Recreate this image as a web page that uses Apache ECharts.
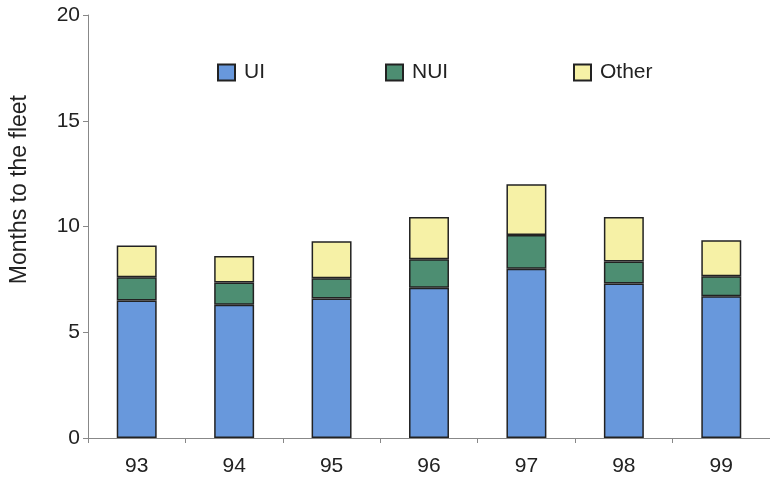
<!DOCTYPE html>
<html>
<head>
<meta charset="utf-8">
<script src="https://cdn.jsdelivr.net/npm/echarts@6/dist/echarts.min.js"></script>
<style>
  html, body { margin: 0; padding: 0; background: #fff; }
  #main { width: 770px; height: 481px; }
</style>
</head>
<body>
<div id="main"></div>
<script>
// years on the x axis
const years = ['93', '94', '95', '96', '97', '98', '99'];
// stacked months per component
const ui = [6.5, 6.3, 6.6, 7.1, 8.0, 7.3, 6.7];
const nui = [1.1, 1.05, 0.95, 1.35, 1.6, 1.05, 0.95];
const other = [1.5, 1.25, 1.75, 2.0, 2.4, 2.1, 1.7];
const names = ['UI', 'NUI', 'Other'];

const colors = ['#6898dc', '#4d8e72', '#f6f1a6'];
const font = 'Liberation Sans, Arial, sans-serif';

const barStyle = (c) => ({
  color: c,
  borderColor: '#222',
  borderWidth: 1.5
});

// one legend per item so each sits where it does in the original
const legendLeft = [212, 380, 568];
const legends = names.map((n, i) => ({
  left: legendLeft[i],
  top: 57,
  itemWidth: 17,
  itemHeight: 16,
  icon: 'rect',
  textStyle: {
    fontFamily: font,
    fontSize: 21,
    color: '#222',
    padding: [0, 0, 0, 4]
  },
  data: [n]
}));

echarts.init(document.getElementById('main')).setOption({
  animation: false,
  color: colors,
  grid: {
    left: 88,
    right: 0,
    top: 15,
    bottom: 43
  },
  legend: legends,
  graphic: [
    {
      type: 'text',
      left: 8,
      top: 95,
      rotation: Math.PI / 2,
      style: {
        text: 'Months to the fleet',
        font: '23px ' + font,
        fill: '#222'
      }
    }
  ],
  xAxis: {
    type: 'category',
    data: years,
    axisLine: { lineStyle: { color: '#888', width: 1 } },
    axisTick: { show: true, length: 5, lineStyle: { color: '#888' } },
    axisLabel: {
      margin: 18,
      fontFamily: font,
      fontSize: 21,
      color: '#222'
    }
  },
  yAxis: {
    type: 'value',
    min: 0,
    max: 20,
    interval: 5,
    axisLine: { show: true, lineStyle: { color: '#888', width: 1 } },
    axisTick: { show: true, length: 5, lineStyle: { color: '#888' } },
    splitLine: { show: false },
    axisLabel: {
      margin: 8,
      fontFamily: font,
      fontSize: 21,
      color: '#222'
    }
  },
  series: [
    {
      name: names[0],
      type: 'bar',
      stack: 'm',
      barWidth: '41%',
      itemStyle: barStyle(colors[0]),
      data: ui
    },
    {
      name: names[1],
      type: 'bar',
      stack: 'm',
      itemStyle: barStyle(colors[1]),
      data: nui
    },
    {
      name: names[2],
      type: 'bar',
      stack: 'm',
      itemStyle: barStyle(colors[2]),
      data: other
    }
  ]
});
</script>
</body>
</html>
